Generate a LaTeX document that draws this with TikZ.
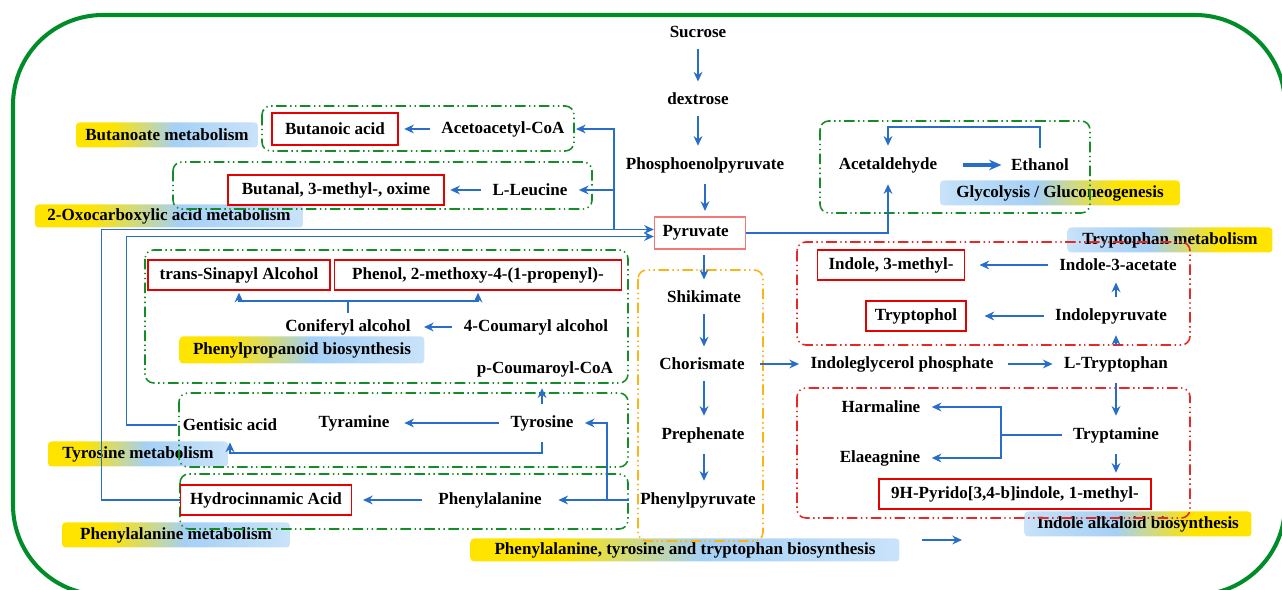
\documentclass[tikz,border=0pt]{standalone}
\usepackage{fontspec}
\setmainfont{Liberation Serif}
\usetikzlibrary{arrows.meta}
\definecolor{lineblue}{RGB}{40,110,200}
\definecolor{grpgreen}{RGB}{20,140,40}
\definecolor{rimgreen}{RGB}{0,140,40}
\definecolor{grpred}{RGB}{230,40,40}
\definecolor{grporange}{RGB}{250,180,20}
\definecolor{hitred}{RGB}{230,0,0}
\definecolor{pyrred}{RGB}{245,120,120}
\definecolor{lblY}{RGB}{255,228,0}
\definecolor{lblB}{RGB}{165,208,245}
\pgfdeclarehorizontalshading{yelblu}{100bp}{color(0bp)=(lblY); color(25bp)=(lblY); color(35bp)=(lblY); color(52bp)=(lblB); color(72bp)=(lblB!65!white); color(75bp)=(lblB!60!white); color(100bp)=(lblB!60!white)}
\pgfdeclarehorizontalshading{bluyel}{100bp}{color(0bp)=(lblB!60!white); color(25bp)=(lblB!60!white); color(28bp)=(lblB!70!white); color(45bp)=(lblB); color(62bp)=(lblY); color(75bp)=(lblY); color(100bp)=(lblY)}

\begin{document}
\begin{tikzpicture}[x=0.02cm, y=-0.02cm,
    every node/.style={font=\bfseries\fontsize{9.7}{11}\selectfont},
    arr/.style={draw=lineblue, line width=0.9pt, -{Stealth[length=5.5pt,width=5pt]}, shorten >=3pt, shorten <=3pt},
    conn/.style={draw=lineblue, line width=0.9pt},
    hit/.style={draw=hitred, line width=1.1pt, minimum height=0.6cm},
    grp/.style={draw=grpgreen, line width=0.9pt, rounded corners=5pt, dash pattern=on 6pt off 2pt on 0.8pt off 2pt on 0.8pt off 2pt},
    lab/.style={rounded corners=2pt, minimum height=0.5cm, inner sep=1pt},
    lblyb/.style={lab, shade, shading=yelblu},
    lblby/.style={lab, shade, shading=bluyel}]
\useasboundingbox (0,0) rectangle (1282,590);
% outer frame
\draw[rimgreen, line width=2.3pt, rounded corners=1.8cm] (13,15) rectangle (1285,595);

% pathway labels
\node[lblyb, minimum width=3.64cm] (labbut) at (167,135) {Butanoate metabolism};
\node[lblyb, minimum width=5.36cm, minimum height=0.46cm] (laboxo) at (169,216) {2-Oxocarboxylic acid metabolism};
\node[lblyb, minimum width=4.9cm, minimum height=0.54cm] (labppb) at (302,350) {Phenylpropanoid biosynthesis};
\node[lblyb, minimum width=3.6cm] (labtyr) at (138,454) {Tyrosine metabolism};
\node[lblyb, minimum width=4.56cm] (labphe) at (176,535) {Phenylalanine metabolism};
\node[lblyb, minimum width=8.58cm, minimum height=0.46cm] (labaro) at (685,550) {Phenylalanine, tyrosine and tryptophan biosynthesis};
\node[lblby, minimum width=4.8cm] (labgly) at (1060,193) {Glycolysis / Gluconeogenesis};
\node[lblby, minimum width=4.1cm] (labtrp) at (1170,240) {Tryptophan metabolism};
\node[lblby, minimum width=4.54cm] (labind) at (1138,524) {Indole alkaloid biosynthesis};

% pathway frames
\draw[grp] (262,106) rectangle (574,151);
\draw[grp] (173,162) rectangle (592,209);
\draw[grp] (145,250) rectangle (628,383);
\draw[grp] (179,393) rectangle (628,467);
\draw[grp] (180,474) rectangle (628,529);
\draw[grp, draw=grporange] (638,270) rectangle (763,541);
\draw[grp] (820,121) rectangle (1090,213);
\draw[grp, draw=grpred] (797,242) rectangle (1190,345);
\draw[grp, draw=grpred] (797,388) rectangle (1190,518);

% main trunk
\node (sucrose) at (698,32) {Sucrose};
\node (dextrose) at (698,99) {dextrose};
\node (pep) at (705,165) {Phosphoenolpyruvate};
\node[draw=pyrred, line width=0.8pt, text width=1.5cm, inner xsep=0.16cm, align=left, minimum height=0.64cm] (pyr) at (700,233) {Pyruvate};
\node (shik) at (704,297) {Shikimate};
\node (chor) at (702,364) {Chorismate};
\node (preph) at (703,435) {Prephenate};
\node (phpyr) at (698,500) {Phenylpyruvate};

% tryptophan side
\node (igp) at (902,364) {Indoleglycerol phosphate};
\node (ltrp) at (1116,364) {L-Tryptophan};
\node (i3a) at (1118,265) {Indole-3-acetate};
\node[hit, minimum width=2.94cm] (ind3m) at (891,265) {Indole, 3-methyl-};
\node (ipyr) at (1111,316) {Indolepyruvate};
\node[hit, minimum width=2.0cm] (trol) at (916,316) {Tryptophol};
\node (harm) at (881,407) {Harmaline};
\node (elae) at (880,458) {Elaeagnine};
\node (tam) at (1116,435) {Tryptamine};
\node[hit, minimum width=5.44cm] (pyrido) at (1015,494) {9H-Pyrido[3,4-b]indole, 1-methyl-};
\node (acald) at (888,165) {Acetaldehyde};
\node (etoh) at (1040,165) {Ethanol};

% left side
\node (gent) at (230,425) {Gentisic acid};
\node (tyram) at (354,423) {Tyramine};
\node (tyr) at (542,423) {Tyrosine};
\node[hit, minimum width=3.42cm] (hydro) at (266,500) {Hydrocinnamic Acid};
\node (phe) at (490,500) {Phenylalanine};
\node[hit, minimum width=3.64cm] (sinap) at (239,275) {trans-Sinapyl Alcohol};
\node[hit, minimum width=5.74cm] (phenol) at (478,275) {Phenol, 2-methoxy-4-(1-propenyl)-};
\node (conif) at (348,327) {Coniferyl alcohol};
\node (coum) at (536,327) {4-Coumaryl alcohol};
\node (pcoa) at (545,369) {p-Coumaroyl-CoA};
\node[hit, minimum width=2.52cm, minimum height=0.64cm] (butac) at (335,129) {Butanoic acid};
\node (acoa) at (503,129) {Acetoacetyl-CoA};
\node[hit, minimum width=4.32cm] (butal) at (336,190) {Butanal, 3-methyl-, oxime};
\node (leu) at (530,190) {L-Leucine};

% trunk arrows
\draw[arr] (sucrose) -- (dextrose);
\draw[arr] (dextrose) -- (dextrose |- pep.north);
\draw[arr] (pep) -- (pep |- pyr.north);
\draw[arr] (shik |- pyr.south) -- (shik);
\draw[arr] (shik) -- (shik |- chor.north);
\draw[arr] (shik |- chor.south) -- (shik |- preph.north);
\draw[arr] (shik |- preph.south) -- (shik |- phpyr.north);
\draw[arr, shorten <=5pt] (chor) -- (igp);
\draw[arr, shorten <=5pt] (igp) -- (ltrp);

% tryptophan arrows
\draw[arr] (ltrp.north) -- (ltrp.north |- ipyr.south);
\draw[arr] (ltrp |- ipyr.north) -- (ltrp |- i3a.south);
\draw[arr, shorten >=10pt] (ipyr) -- (trol);
\draw[arr, shorten >=8pt] (i3a) -- (ind3m);
\draw[arr] (ltrp.south) -- (ltrp |- tam.north);
\draw[arr] (ltrp |- tam.south) -- (ltrp |- pyrido.north);
\draw[conn, shorten <=3pt] (tam.west) -- ++(-66,0) coordinate (tamJ);
\draw[arr, shorten <=0pt] (tamJ) |- (harm.east);
\draw[arr, shorten <=0pt] (tamJ) |- (elae.east);

% glycolysis
\coordinate (glyTop) at (960,127);
\draw[arr, shorten <=0pt] (pyr.east) -| (acald.south);
\draw[arr, line width=2pt, -{Stealth[length=7pt,width=6pt]}, shorten <=11pt, shorten >=2pt] (acald) -- (etoh);
\draw[arr] (etoh.north) |- (glyTop) -| (acald.north);

% back to pyruvate
\path ([yshift=2pt]pyr.west) coordinate (pinA);
\path ([yshift=-2pt]pyr.west) coordinate (pinB);
\draw[arr, shorten <=0pt, shorten >=0pt] (hydro.west) -- ++(-78,0) |- (pinA);
\draw[arr, shorten <=0pt, shorten >=0pt] (gent.west) -- ++(-50,0) |- (pinB);
\coordinate (pbr) at (614,130);
\draw[arr, shorten <=0pt] (pbr |- pinA) |- (acoa.east);
\draw[arr, shorten <=0pt] (pbr |- leu) -- (leu.east);
\draw[arr] (acoa) -- (butac);
\draw[arr] (leu) -- (butal);

% phenylalanine / tyrosine
\coordinate (pbr2) at (607,423);
\draw[arr, shorten >=6pt] (phpyr) -- (phe);
\draw[arr, shorten <=0pt] (pbr2 |- phe) |- (tyr.east);
\draw[arr, shorten <=6pt, shorten >=6pt] (phe) -- (hydro);
\draw[arr, shorten >=5pt] (tyr) -- (tyram);
\draw[arr] (tyr) -- (tyr |- pcoa.south);
\draw[arr] (tyr.south) -- ++(0,16) -| (gent.south);

% phenylpropanoid
\draw[arr, shorten >=4pt] (coum) -- (conif);
\draw[conn] (conif.north) -- ++(0,-12) coordinate (conJ);
\draw[arr, shorten <=0pt, shorten >=1pt] (conJ) -| (sinap.south);
\draw[arr, shorten <=0pt, shorten >=1pt] (conJ) -| (phenol.south);

% legend arrow
\coordinate (legA) at (922,540);
\coordinate (legB) at (962,540);
\draw[arr, shorten <=0pt, shorten >=0pt] (legA) -- (legB);
\end{tikzpicture}
\end{document}
